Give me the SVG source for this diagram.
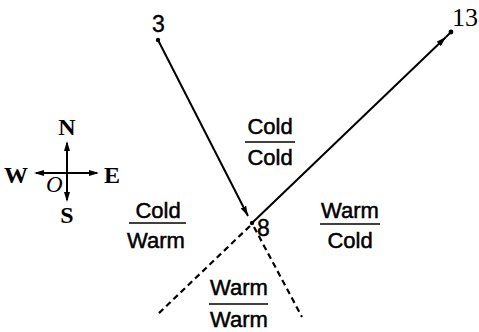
<svg xmlns="http://www.w3.org/2000/svg" width="479" height="332" viewBox="0 0 479 332">
<style>
.ln{stroke:#000;stroke-width:2;fill:none}
.dash{stroke:#000;stroke-width:2.2;fill:none;stroke-dasharray:6,4}
.lab{font-family:"Liberation Sans",Arial,sans-serif;font-size:22px;fill:#000;stroke:#000;stroke-width:0.5;text-anchor:middle}
.num{font-family:"Liberation Sans",Arial,sans-serif;font-size:23px;fill:#000;stroke:#000;stroke-width:0.4}
.ser{font-family:"Liberation Serif","Times New Roman",serif;font-size:24px;fill:#000;font-weight:bold;text-anchor:middle}
.bar{stroke:#000;stroke-width:1.6}
</style>
<defs>
<marker id="ah" viewBox="0 0 10 6" refX="10" refY="3" markerWidth="10" markerHeight="6" markerUnits="userSpaceOnUse" orient="auto">
<path d="M0,0 L10,3 L0,6 Z" fill="#000"/>
</marker>
</defs>
<rect width="479" height="332" fill="#fff"/>
<g id="connectors">
<line class="ln" x1="158" y1="40" x2="248" y2="216" marker-end="url(#ah)"/>
<line class="ln" x1="252" y1="223" x2="446" y2="37" marker-end="url(#ah)"/>
<line class="ln" x1="446" y1="37" x2="451" y2="32"/>
<line class="dash" x1="250" y1="226" x2="157" y2="315"/>
<line class="dash" x1="254" y1="227" x2="302" y2="317"/>
</g>
<g id="point3"><circle cx="158" cy="40" r="2.2"/><text class="num" x="152" y="32">3</text></g>
<g id="point8"><circle cx="252" cy="223" r="2.2"/><text class="num" x="257" y="236">8</text></g>
<g id="point13"><circle cx="451" cy="32" r="2.4"/><text x="452" y="26" style="font-family:'Liberation Serif','Times New Roman',serif;font-size:26px">13</text></g>
<g id="compass">
<line class="ln" x1="67" y1="143" x2="67" y2="200" stroke-width="1.5"/>
<line class="ln" x1="36" y1="173" x2="97" y2="173" stroke-width="1.5"/>
<path d="M67,141 L64,151 L70,151Z M34,173 L44,170 L44,176Z M99,173 L89,170 L89,176Z M67,202 L64,192 L70,192Z"/>
<text class="ser" x="67" y="135">N</text>
<text class="ser" x="16" y="183">W</text>
<text class="ser" x="112" y="183">E</text>
<text class="ser" x="67" y="223">S</text>
<text x="46" y="192" style="font-family:'Liberation Serif','Times New Roman',serif;font-size:23px;font-style:italic">O</text>
</g>
<g id="coldcold"><text class="lab" x="270" y="134">Cold</text><line class="bar" x1="245" y1="142" x2="295" y2="142"/><text class="lab" x="270" y="165">Cold</text></g>
<g id="coldwarm"><text class="lab" x="158" y="218">Cold</text><line class="bar" x1="129" y1="223" x2="186" y2="223"/><text class="lab" x="156" y="248">Warm</text></g>
<g id="warmcold"><text class="lab" x="350" y="218">Warm</text><line class="bar" x1="320" y1="224" x2="380" y2="224"/><text class="lab" x="350" y="248">Cold</text></g>
<g id="warmwarm"><text class="lab" x="239" y="295">Warm</text><line class="bar" x1="209" y1="304" x2="268" y2="304"/><text class="lab" x="239" y="327">Warm</text></g>
</svg>
